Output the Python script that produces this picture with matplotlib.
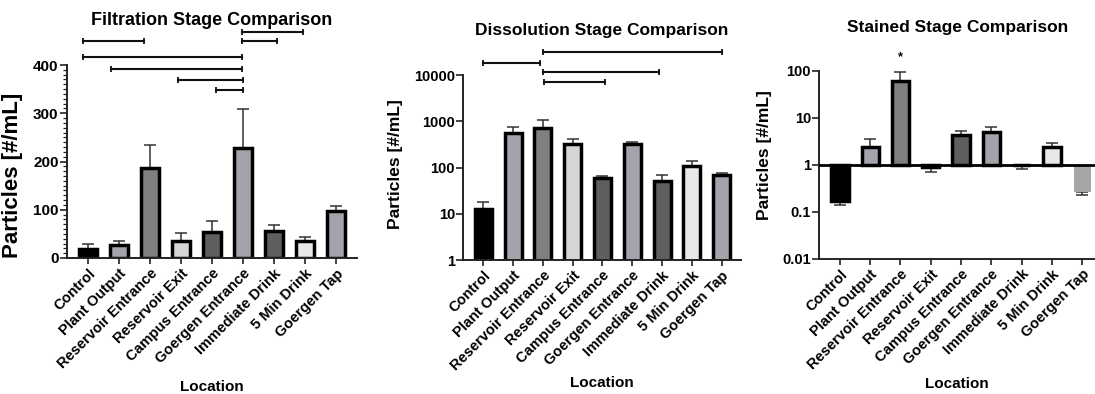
import numpy as np
import matplotlib
matplotlib.use("Agg")
import matplotlib.pyplot as plt
from matplotlib.ticker import MultipleLocator, LogLocator, FuncFormatter, NullLocator

plt.rcParams['font.family'] = ['Liberation Sans', 'DejaVu Sans']
plt.rcParams['font.weight'] = 'bold'

# data
locations = ["Control", "Plant Output", "Reservoir Entrance", "Reservoir Exit",
             "Campus Entrance", "Goergen Entrance", "Immediate Drink",
             "5 Min Drink", "Goergen Tap"]

filt_mean = [19, 26, 187, 36, 54, 227, 55, 36, 97]
filt_err = [9, 9, 47, 16, 23, 82, 13, 8, 11]

diss_mean = [13, 550, 710, 325, 59, 318, 51, 108, 70]
diss_err = [5, 195, 340, 90, 6, 37, 18, 30, 5]

stain_mean = [0.17, 2.34, 61, 0.9, 4.35, 4.9, 0.97, 2.4, 0.26]
stain_err = [0.03, 1.13, 33, 0.2, 0.95, 1.5, 0.17, 0.45, 0.033]

# significance brackets (start, end, height)
filt_brackets = [(4.96, 6.95, 468), (-0.18, 1.8, 449), (4.96, 6.09, 449),
                 (-0.18, 4.96, 417), (0.73, 4.96, 391), (2.91, 5.0, 369),
                 (4.13, 5.0, 348)]
diss_brackets = [(2.0, 8.0, 31600), (-0.02, 1.89, 18200), (2.0, 5.9, 12000),
                 (2.05, 4.1, 7100)]

bar_colors = ['#000000', '#a3a3ab', '#808080', '#d6d6d6', '#5f5f5f',
              '#a3a3ab', '#5f5f5f', '#e8e8e8', '#a3a3ab']

x = np.arange(len(locations))


def style(ax, xlim):
    for s in ['top', 'right']:
        ax.spines[s].set_visible(False)
    for s in ['left', 'bottom']:
        ax.spines[s].set_linewidth(1.4)
        ax.spines[s].set_color('#222222')
    ax.set_xlim(*xlim)
    ax.set_xticks(x)
    ax.set_xticklabels(locations, rotation=45, ha='right', rotation_mode='anchor',
                       fontsize=10.5, fontweight='bold')
    ax.tick_params(axis='x', length=4, width=1.2, pad=2, color='#222222')
    ax.tick_params(axis='y', which='major', length=5, width=1.2, pad=1, color='#222222')
    ax.tick_params(axis='y', which='minor', length=3, width=0.9, color='#222222')
    ax.xaxis.set_label_coords(0.5, -0.63)


def brackets(ax, br):
    for a, b, yv in br:
        ax.plot([a, b], [yv, yv], color='#111111', lw=1.5, clip_on=False)
        ax.plot([a, b], [yv, yv], ls='none', marker='|', ms=5, mew=1.3,
                color='#111111', clip_on=False)


fig = plt.figure(figsize=(10.95, 3.94), dpi=100)
ax1 = fig.add_axes([0.0612, 0.3452, 0.2648, 0.4898])
ax2 = fig.add_axes([0.4231, 0.3401, 0.2536, 0.4688])
ax3 = fig.add_axes([0.7482, 0.3434, 0.2518, 0.4772])

# filtration
ax1.errorbar(x, filt_mean, yerr=[np.zeros(9), filt_err], fmt='none', ecolor='#333333',
             elinewidth=1.1, capsize=4, capthick=1.1, zorder=1)
ax1.bar(x, filt_mean, width=0.56, color=bar_colors, edgecolor='black', linewidth=2.5, zorder=2)
ax1.set_ylim(0, 400)
ax1.yaxis.set_major_locator(MultipleLocator(100))
ax1.yaxis.set_minor_locator(MultipleLocator(10))
style(ax1, (-0.68, 8.68))
for t in ax1.get_yticklabels():
    t.set_fontsize(11)
brackets(ax1, filt_brackets)
ax1.text(0.5, 1.233, 'Filtration Stage Comparison', transform=ax1.transAxes,
         ha='center', va='center', fontsize=13, fontweight='bold')
ax1.set_ylabel('Particles [#/mL]', fontsize=16, fontweight='bold')
ax1.yaxis.set_label_coords(-0.152, 0.43)
ax1.set_xlabel('Location', fontsize=11, fontweight='bold')

# dissolution
ax2.set_yscale('log')
ax2.errorbar(x, diss_mean, yerr=[np.zeros(9), diss_err], fmt='none', ecolor='#333333',
             elinewidth=1.1, capsize=4, capthick=1.1, zorder=1)
ax2.bar(x, diss_mean, width=0.57, color=bar_colors, edgecolor='black', linewidth=2.5, zorder=2)
ax2.set_ylim(1, 10000)
ax2.yaxis.set_major_locator(LogLocator(base=10, numticks=10))
ax2.yaxis.set_minor_locator(NullLocator())
ax2.yaxis.set_major_formatter(FuncFormatter(lambda v, p: f'{v:g}'))
style(ax2, (-0.67, 8.65))
for t in ax2.get_yticklabels():
    t.set_fontsize(10.5)
brackets(ax2, diss_brackets)
ax2.text(0.5, 1.24, 'Dissolution Stage Comparison', transform=ax2.transAxes,
         ha='center', va='center', fontsize=12.5, fontweight='bold')
ax2.set_ylabel('Particles [#/mL]', fontsize=12.5, fontweight='bold')
ax2.yaxis.set_label_coords(-0.217, 0.52)
ax2.set_xlabel('Location', fontsize=11, fontweight='bold')

# stained
ax3.set_yscale('log')
stain_mean = np.array(stain_mean)
stain_err = np.array(stain_err)
below = stain_mean < 1
lower = np.where(below, stain_err, 0)
upper = np.where(below, 0, stain_err)
ax3.errorbar(x, stain_mean, yerr=[lower, upper], fmt='none', ecolor='#333333',
             elinewidth=1.1, capsize=4, capthick=1.1, zorder=1)
stain_edges = ['black'] * 8 + ['none']
stain_colors = bar_colors[:8] + ['#a6a6a6']
ax3.bar(x, stain_mean - 1, bottom=1, width=0.57, color=stain_colors,
        edgecolor=stain_edges, linewidth=2.5, zorder=2)
ax3.axhline(1, color='black', lw=2, zorder=3)
ax3.set_ylim(0.01, 100)
ax3.yaxis.set_major_locator(LogLocator(base=10, numticks=10))
ax3.yaxis.set_minor_locator(NullLocator())
ax3.yaxis.set_major_formatter(FuncFormatter(lambda v, p: f'{v:g}'))
style(ax3, (-0.68, 8.42))
for t in ax3.get_yticklabels():
    t.set_fontsize(10.5)
ax3.text(2, 193, '*', ha='center', va='center', fontsize=9, fontweight='bold')
ax3.text(0.5, 1.232, 'Stained Stage Comparison', transform=ax3.transAxes,
         ha='center', va='center', fontsize=12.5, fontweight='bold')
ax3.set_ylabel('Particles [#/mL]', fontsize=12.5, fontweight='bold')
ax3.yaxis.set_label_coords(-0.173, 0.55)
ax3.set_xlabel('Location', fontsize=11, fontweight='bold')

fig.savefig('out.png', dpi=100)
